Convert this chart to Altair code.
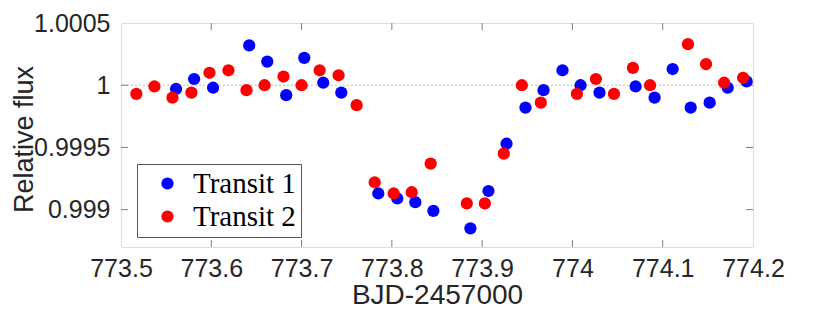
import altair as alt
import pandas as pd

# Transit 1 (blue)
t1_time = [773.561, 773.581, 773.602, 773.642, 773.662, 773.683, 773.703, 773.724, 773.744,
           773.785, 773.806, 773.826, 773.846, 773.887, 773.907, 773.927, 773.948, 773.968,
           773.989, 774.009, 774.030, 774.070, 774.091, 774.111, 774.131, 774.152, 774.172, 774.193]
t1_flux = [0.99997, 1.00005, 0.99998, 1.00032, 1.00019, 0.99992, 1.00022, 1.00002, 0.99994,
           0.99913, 0.99909, 0.99906, 0.99899, 0.99885, 0.99915, 0.99953, 0.99982, 0.99996,
           1.00012, 1.00000, 0.99994, 0.99999, 0.99990, 1.00013, 0.99982, 0.99986, 0.99998, 1.00003]

# Transit 2 (red)
t2_time = [773.517, 773.537, 773.557, 773.578, 773.598, 773.619, 773.639, 773.659, 773.680,
           773.700, 773.720, 773.741, 773.761, 773.781, 773.802, 773.822, 773.843, 773.883,
           773.903, 773.924, 773.944, 773.965, 774.005, 774.026, 774.046, 774.067, 774.086,
           774.128, 774.148, 774.168, 774.189]
t2_flux = [0.99993, 0.99999, 0.99990, 0.99994, 1.00010, 1.00012, 0.99996, 1.00000, 1.00007,
           1.00000, 1.00012, 1.00008, 0.99984, 0.99922, 0.99913, 0.99914, 0.99937, 0.99905,
           0.99905, 0.99945, 1.00000, 0.99986, 0.99993, 1.00005, 0.99993, 1.00014, 1.00000,
           1.00033, 1.00017, 1.00002, 1.00006]

series_names = ["Transit 1", "Transit 2"]
series_colors = ["#0000FF", "#FF0000"]

x_ticks = [773.5, 773.6, 773.7, 773.8, 773.9, 774.0, 774.1, 774.2]
y_ticks = [0.999, 0.9995, 1.0, 1.0005]
x_inner_ticks = [773.6, 773.7, 773.8, 773.9, 774.0, 774.1]
y_inner_ticks = [0.999, 0.9995, 1.0]
x_domain = [773.5, 774.2]
y_domain = [0.9987, 1.0005]

W, H = 632, 224
TICK = 7

df = pd.concat([
    pd.DataFrame({"time": t1_time, "flux": t1_flux, "series": series_names[0], "order": 0}),
    pd.DataFrame({"time": t2_time, "flux": t2_flux, "series": series_names[1], "order": 1}),
])

xscale = alt.Scale(domain=x_domain, nice=False, zero=False)
yscale = alt.Scale(domain=y_domain, nice=False, zero=False)

AXIS_FONT = "Liberation Sans"
LABEL_COLOR = "#262626"

xaxis = alt.Axis(values=x_ticks, format="~g", title="BJD-2457000", grid=False, ticks=False,
                 tickSize=0, domain=False, labelFont=AXIS_FONT, labelFontSize=25,
                 labelColor=LABEL_COLOR, labelPadding=9, titleFont=AXIS_FONT,
                 titleFontSize=28, titleFontWeight="normal", titleColor=LABEL_COLOR,
                 titleX=W / 2, titleY=56, titleBaseline="alphabetic", labelFlush=False)
yaxis = alt.Axis(values=y_ticks, format="~g", title="Relative flux", grid=False, ticks=False,
                 tickSize=0, domain=False, labelFont=AXIS_FONT, labelFontSize=25,
                 labelColor=LABEL_COLOR, labelPadding=11, titleFont=AXIS_FONT,
                 titleFontSize=27, titleFontWeight="normal", titleColor=LABEL_COLOR,
                 titleX=-89, titleY=116, titleBaseline="alphabetic", titleAngle=270,
                 titleAlign="center", labelFlush=False)

ref = alt.Chart(pd.DataFrame({"y": [1.0]})).mark_rule(
    color="#b0b0b0", strokeDash=[2, 2], strokeWidth=0.8
).encode(y=alt.Y("y:Q", scale=yscale, axis=yaxis))

points = alt.Chart(df).mark_circle(size=150, opacity=1).encode(
    x=alt.X("time:Q", scale=xscale, axis=xaxis),
    y=alt.Y("flux:Q", scale=yscale, axis=yaxis),
    color=alt.Color("series:N",
                    scale=alt.Scale(domain=series_names, range=series_colors),
                    legend=alt.Legend(title=None, orient="none", legendX=16, legendY=141,
                                      padding=5, symbolOffset=11, labelOffset=11,
                                      rowPadding=3, symbolType="circle", symbolSize=150,
                                      symbolStrokeWidth=0, labelFont="Liberation Serif",
                                      labelFontSize=29, labelColor="#000000",
                                      strokeColor="#555555", fillColor="#ffffff")),
    order=alt.Order("order:Q"),
)

xt = pd.DataFrame({"v": x_inner_ticks})
yt = pd.DataFrame({"v": y_inner_ticks})
tick_color = "#7f7f7f"
bottom_ticks = alt.Chart(xt).mark_rule(color=tick_color, strokeWidth=1).encode(
    x=alt.X("v:Q", scale=xscale, axis=xaxis), y=alt.value(H), y2=alt.value(H - TICK))
top_ticks = alt.Chart(xt).mark_rule(color=tick_color, strokeWidth=1).encode(
    x=alt.X("v:Q", scale=xscale, axis=xaxis), y=alt.value(0), y2=alt.value(TICK))
left_ticks = alt.Chart(yt).mark_rule(color=tick_color, strokeWidth=1).encode(
    y=alt.Y("v:Q", scale=yscale, axis=yaxis), x=alt.value(0), x2=alt.value(TICK))
right_ticks = alt.Chart(yt).mark_rule(color=tick_color, strokeWidth=1).encode(
    y=alt.Y("v:Q", scale=yscale, axis=yaxis), x=alt.value(W), x2=alt.value(W - TICK))

chart = alt.layer(ref, bottom_ticks, top_ticks, left_ticks, right_ticks, points).properties(
    width=W, height=H,
    autosize=alt.AutoSizeParams(type="none"),
    padding={"left": 113, "top": 15, "right": 60, "bottom": 64},
).configure_view(stroke="#7f7f7f", strokeWidth=1).configure(background="white")

chart.save("out.html", embed_options={"renderer": "svg", "actions": False})
